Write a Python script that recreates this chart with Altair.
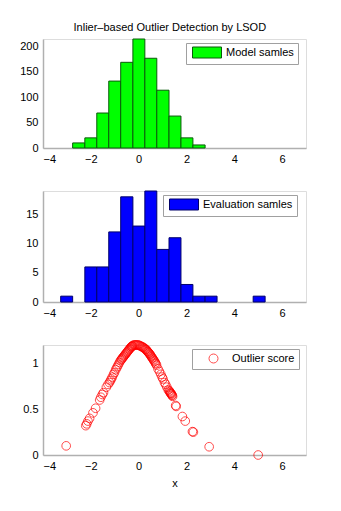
import altair as alt
import pandas as pd

# ---- data ----
model_edges = [-2.76, -2.25, -1.75, -1.25, -0.75, -0.24, 0.26, 0.76, 1.27, 1.77, 2.27, 2.78]
model_counts = [10, 20, 69, 132, 169, 215, 177, 114, 63, 20, 6]

eval_edges = [-3.26, -2.76, -2.25, -1.75, -1.25, -0.75, -0.24, 0.26, 0.76, 1.27, 1.77,
              2.27, 2.78, 3.28, 3.78, 4.29, 4.79, 5.29]
eval_counts = [1, 0, 6, 6, 12, 18, 13, 19, 9, 11, 3, 1, 1, 0, 0, 0, 1]

score_x = [-3.03,
           -2.21, -2.17, -2.12, -2.05, -1.91, -1.80,
           -1.63, -1.58, -1.52, -1.47, -1.35, -1.28,
           -1.22, -1.18, -1.14, -1.10, -1.05, -1.01, -0.96, -0.92, -0.88, -0.84, -0.80, -0.76,
           -0.72, -0.70, -0.67, -0.64, -0.61, -0.58, -0.55, -0.52, -0.49, -0.46, -0.43, -0.40,
           -0.37, -0.34, -0.31, -0.29, -0.27, -0.25,
           -0.21, -0.17, -0.13, -0.09, -0.05, -0.01, 0.03, 0.07, 0.11, 0.15, 0.18, 0.22, 0.25,
           0.29, 0.31, 0.34, 0.37, 0.39, 0.42, 0.44, 0.47, 0.49, 0.52, 0.54, 0.57, 0.59, 0.62,
           0.64, 0.67, 0.70, 0.72, 0.75,
           0.81, 0.87, 0.93, 0.98, 1.02, 1.08, 1.13, 1.18, 1.24,
           1.28, 1.30, 1.32, 1.34, 1.35, 1.37, 1.39, 1.40, 1.42, 1.55, 1.57,
           1.83, 1.95, 2.25, 2.29, 2.95, 5.00]
score_y = [0.10,
           0.32, 0.34, 0.37, 0.40, 0.46, 0.51,
           0.60, 0.63, 0.66, 0.68, 0.74, 0.77,
           0.79, 0.81, 0.83, 0.85, 0.88, 0.90, 0.93, 0.95, 0.97, 0.99, 1.01, 1.03,
           1.04, 1.05, 1.06, 1.07, 1.08, 1.09, 1.10, 1.11, 1.12, 1.13, 1.14, 1.15,
           1.16, 1.17, 1.18, 1.18, 1.19, 1.19,
           1.20, 1.20, 1.20, 1.20, 1.20, 1.20, 1.195, 1.19, 1.185, 1.18, 1.175, 1.17, 1.16,
           1.155, 1.15, 1.14, 1.13, 1.125, 1.115, 1.11, 1.10, 1.09, 1.08, 1.07, 1.06, 1.05, 1.04,
           1.03, 1.02, 1.005, 0.995, 0.98,
           0.94, 0.91, 0.88, 0.85, 0.83, 0.79, 0.77, 0.74, 0.71,
           0.70, 0.69, 0.68, 0.675, 0.67, 0.665, 0.655, 0.65, 0.64, 0.54, 0.53,
           0.42, 0.37, 0.255, 0.25, 0.09, 0.00]

x_ticks = [-4, -2, 0, 2, 4, 6]
top_ticks = [0, 50, 100, 150, 200]
mid_ticks = [0, 5, 10, 15]
bot_ticks = [0, 0.5, 1]

FONT = "Liberation Sans"
AXIS_GREY = "#b0b0b0"
W = 263

RECT_PATH = "M-0.6,-1.1H5.2V1.1H-0.6Z"
CIRC_PATH = "M3.3,0A0.9,0.9,0,1,1,1.5,0A0.9,0.9,0,1,1,3.3,0Z"


def hist_df(edges, counts, label):
    rows = []
    for i, c in enumerate(counts):
        if c > 0:
            rows.append({"left": edges[i], "right": edges[i + 1], "count": c, "label": label})
    return pd.DataFrame(rows)


def x_axis(title=None):
    kw = dict(values=x_ticks, format="d", grid=False, domainColor=AXIS_GREY, domainWidth=1.5,
              tickSize=0, labelPadding=5, labelFont=FONT, labelFontSize=11,
              labelColor="black", titleFont=FONT, titleFontSize=11, titleFontWeight="normal",
              titleColor="black", titlePadding=6)
    kw["title"] = title
    if title is None:
        kw["title"] = None
    return alt.Axis(**kw)


def y_axis(ticks, fmt):
    return alt.Axis(values=ticks, format=fmt, title=None, grid=False, domainColor=AXIS_GREY,
                    domainWidth=1.5, tickSize=0, labelPadding=5, labelFont=FONT,
                    labelFontSize=11, labelColor="black")


def legend(x, y, sym, stroke):
    return alt.Legend(title=None, orient="none", legendX=x, legendY=y,
                      strokeColor="#a0a0a0", fillColor="white", padding=4,
                      symbolType=sym, symbolSize=100, symbolStrokeColor=stroke,
                      symbolStrokeWidth=1,
                      labelFont=FONT, labelFontSize=11, labelColor="black", labelOffset=25)


top_df = hist_df(model_edges, model_counts, "Model samles")
mid_df = hist_df(eval_edges, eval_counts, "Evaluation samles")
bot_df = pd.DataFrame({"x": score_x, "y": score_y, "label": "Outlier score"})

XSCALE = alt.Scale(domain=[-4, 7], nice=False, zero=False)

top = alt.Chart(top_df).mark_bar(stroke="#0a5a0a", strokeWidth=1).encode(
    x=alt.X("left:Q", scale=XSCALE, axis=x_axis()),
    x2="right:Q",
    y=alt.Y("count:Q", scale=alt.Scale(domain=[0, 215], nice=False), axis=y_axis(top_ticks, "d")),
    y2=alt.datum(0),
    color=alt.Color("label:N", scale=alt.Scale(domain=["Model samles"], range=["#00ff00"]),
                    legend=legend(143, 4, RECT_PATH, "#0a5a0a")),
).properties(width=W, height=109)

mid = alt.Chart(mid_df).mark_bar(stroke="#00006a", strokeWidth=1).encode(
    x=alt.X("left:Q", scale=XSCALE, axis=x_axis()),
    x2="right:Q",
    y=alt.Y("count:Q", scale=alt.Scale(domain=[0, 19], nice=False), axis=y_axis(mid_ticks, "d")),
    y2=alt.datum(0),
    color=alt.Color("label:N", scale=alt.Scale(domain=["Evaluation samles"], range=["#0000ff"]),
                    legend=legend(120, 4, RECT_PATH, "#00006a")),
).properties(width=W, height=111)

bot = alt.Chart(bot_df).mark_point(shape="circle", filled=False, size=75, strokeWidth=1).encode(
    x=alt.X("x:Q", scale=XSCALE, axis=x_axis("x")),
    y=alt.Y("y:Q", scale=alt.Scale(domain=[0, 1.2], nice=False), axis=y_axis(bot_ticks, "~g")),
    color=alt.Color("label:N", scale=alt.Scale(domain=["Outlier score"], range=["#ff0000"]),
                    legend=legend(149, 4, CIRC_PATH, "#ff0000")),
).properties(width=W, height=110)

chart = alt.vconcat(top, mid, bot, spacing=43, bounds="flush").resolve_scale(
    color="independent").resolve_legend(color="independent").properties(
    title=alt.TitleParams("Inlier\u2013based Outlier Detection by LSOD", font=FONT, fontSize=11,
                          fontWeight="normal", color="black", anchor="middle", offset=5, dx=7),
    padding={"left": 19, "top": 22, "right": 5, "bottom": 5},
).configure_view(strokeWidth=0).configure(background="white")

chart.save("out.html", embed_options={"renderer": "svg", "actions": False})
